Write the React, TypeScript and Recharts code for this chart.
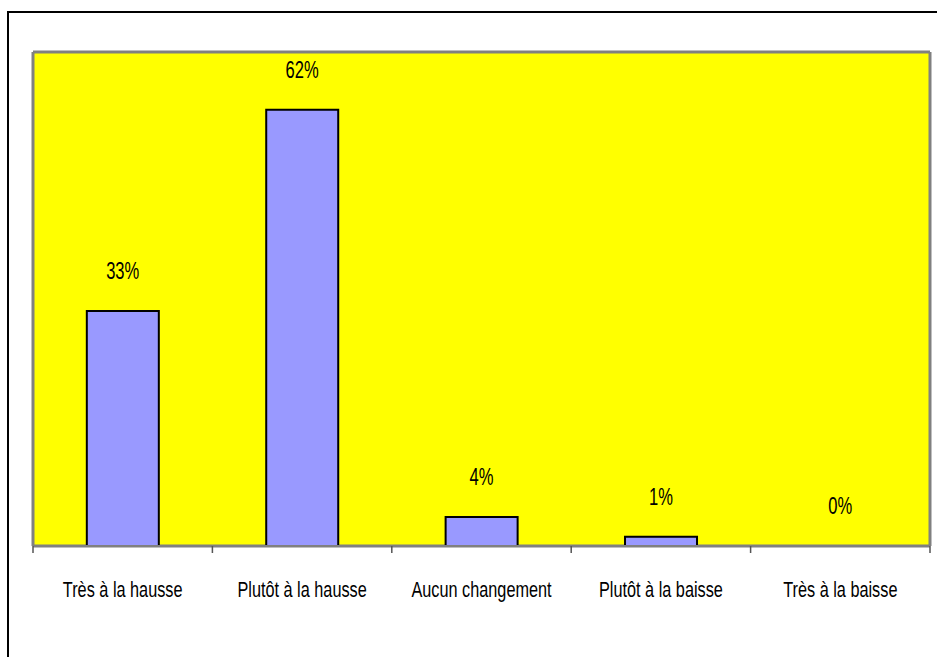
import React from 'react';
import { ComposedChart, Bar, Line, XAxis, YAxis, CartesianGrid, LabelList } from 'recharts';

const categories = ['Très à la hausse', 'Plutôt à la hausse', 'Aucun changement', 'Plutôt à la baisse', 'Très à la baisse'];
const shares = [33.3, 61.8, 4.1, 1.3, 0];

const data = categories.map((name, i) => ({ name, value: shares[i] }));

const FONT = "'Liberation Sans', Arial, sans-serif";
const CHART_W = 937;
const MARGIN = { top: 52, right: 7, bottom: 3, left: 33 };

// tick marks sit on the category boundaries; labels are squeezed horizontally to look narrow
const CategoryTick = ({ x, y, payload, index, visibleTicksCount }: any) => {
  const half = payload?.offset || (CHART_W - MARGIN.left - MARGIN.right) / categories.length / 2;
  const isLast = index === (visibleTicksCount ?? categories.length) - 1;
  return (
    <g>
      <line x1={x - half} x2={x - half} y1={y} y2={y + 7} stroke="#555" strokeWidth={1.5} />
      {isLast && <line x1={x + half} x2={x + half} y1={y} y2={y + 7} stroke="#555" strokeWidth={1.5} />}
      <g transform={`translate(${x},${y + 51})`}>
        <text transform="scale(0.74,1)" textAnchor="middle" fontSize={22} fontFamily={FONT} fill="#000">
          {payload.value}
        </text>
      </g>
    </g>
  );
};

const PctLabel = ({ x, y, value }: any) => (
  <g transform={`translate(${x},${y - 32})`}>
    <text transform="scale(0.72,1)" textAnchor="middle" fontSize={23} fontFamily={FONT} fill="#000">
      {`${Math.round(Number(value))}%`}
    </text>
  </g>
);

export default function App() {
  return (
    <div style={{ position: 'absolute', left: 0, top: 0, width: 937, height: 657, overflow: 'hidden', background: '#fff' }}>
      <div style={{ position: 'absolute', left: 7, top: 11, width: 960, height: 700, border: '2px solid #000' }} />
      <div style={{ position: 'absolute', left: 0, top: 0 }}>
        <ComposedChart
          width={CHART_W}
          height={657}
          data={data}
          margin={MARGIN}
          barCategoryGap="30%"
        >
          <CartesianGrid
            fill="#FFFF00"
            stroke="#808080"
            strokeWidth={3}
            horizontalCoordinatesGenerator={({ offset }: any) => [offset.top, offset.top + offset.height]}
            verticalCoordinatesGenerator={({ offset }: any) => [offset.left, offset.left + offset.width]}
          />
          <XAxis
            dataKey="name"
            axisLine={{ stroke: '#808080', strokeWidth: 2 }}
            tickLine={false}
            tickSize={0}
            tickMargin={0}
            height={108}
            interval={0}
            tick={<CategoryTick />}
          />
          <YAxis hide domain={[0, 70]} />
          <Bar dataKey="value" fill="#9999FF" stroke="#000" strokeWidth={2} isAnimationActive={false} />
          <Line
            dataKey="value"
            stroke="none"
            dot={false}
            activeDot={false}
            isAnimationActive={false}
          >
            <LabelList dataKey="value" content={<PctLabel />} />
          </Line>
        </ComposedChart>
      </div>
    </div>
  );
}
